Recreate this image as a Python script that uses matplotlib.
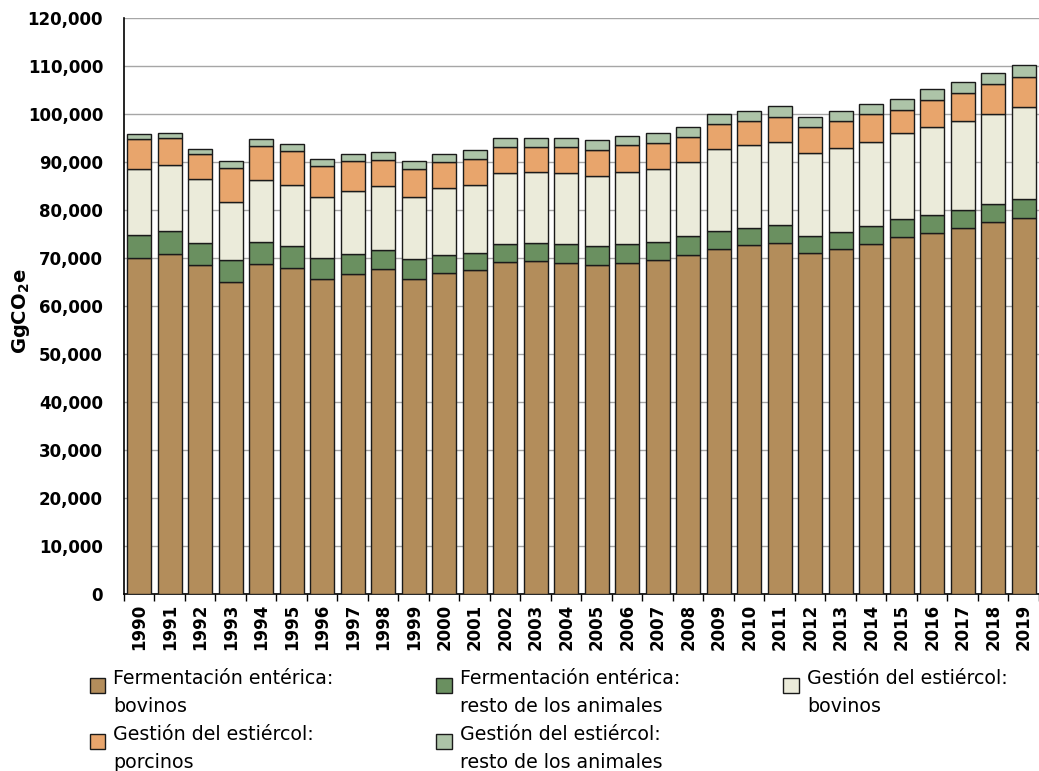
import matplotlib.pyplot as plt
import numpy as np
from matplotlib.legend_handler import HandlerPatch
from matplotlib.patches import Rectangle
from matplotlib.ticker import FuncFormatter, FixedLocator

# Emisiones del sector ganadero (GgCO2e), 1990-2019
years = list(range(1990, 2020))

ferm_bovinos = [69900, 70800, 68500, 64900, 68750, 67850, 65600, 66700, 67600, 65700,
                66900, 67400, 69100, 69300, 69000, 68500, 68960, 69650, 70700, 71800,
                72600, 73100, 71000, 71800, 73000, 74400, 75200, 76200, 77500, 78300]
ferm_resto = [4900, 4800, 4600, 4700, 4650, 4550, 4300, 4100, 4000, 4000,
              3800, 3700, 3750, 3750, 3850, 3900, 3890, 3750, 3800, 3800,
              3700, 3700, 3500, 3550, 3600, 3700, 3800, 3700, 3750, 3900]
estiercol_bovinos = [13700, 13700, 13300, 12100, 12900, 12900, 12700, 13200, 13300, 13100,
                     13900, 14200, 14850, 14800, 14750, 14700, 15050, 15100, 15500, 17000,
                     17200, 17450, 17300, 17500, 17650, 17900, 18300, 18600, 18750, 19200]
estiercol_porcinos = [6200, 5600, 5300, 7050, 7000, 6900, 6600, 6100, 5500, 5700,
                      5300, 5400, 5400, 5200, 5450, 5300, 5600, 5500, 5100, 5250,
                      5000, 5150, 5400, 5650, 5650, 4800, 5600, 5900, 6200, 6200]
estiercol_resto = [1100, 1100, 1100, 1350, 1400, 1500, 1400, 1600, 1600, 1600,
                   1700, 1700, 1800, 1850, 1850, 2100, 2000, 2100, 2200, 2050,
                   2100, 2200, 2200, 2200, 2200, 2300, 2400, 2300, 2300, 2600]

series = [
    ("Fermentación entérica:\nbovinos", ferm_bovinos, "#B38D5B"),
    ("Fermentación entérica:\nresto de los animales", ferm_resto, "#6A9060"),
    ("Gestión del estiércol:\nbovinos", estiercol_bovinos, "#EBEBDA"),
    ("Gestión del estiércol:\nporcinos", estiercol_porcinos, "#E8A56C"),
    ("Gestión del estiércol:\nresto de los animales", estiercol_resto, "#ADC4A8"),
]

plt.rcParams["font.family"] = ["DejaVu Sans"]


def top_square(legend, orig_handle, xdescent, ydescent, width, height, fontsize):
    # square legend key aligned with the first line of a two-line label
    side = 0.8 * fontsize
    return Rectangle((-xdescent, -ydescent + height - side), side, side)


fig = plt.figure(figsize=(10.39, 7.71), dpi=100)
ax = fig.add_axes([0.1193, 0.2296, 0.8807, 0.7471])

x = np.arange(len(years))
bottom = np.zeros(len(years))
handles = []
for label, vals, color in series:
    vals = np.array(vals, dtype=float)
    bars = ax.bar(x, vals, bottom=bottom, width=0.78, color=color,
                  edgecolor="#1a1a1a", linewidth=1.0, label=label, zorder=3)
    handles.append(bars.patches[0])
    bottom += vals

ax.set_ylim(0, 120000)
ax.set_xlim(-0.5, 29.21)
ax.yaxis.set_major_locator(FixedLocator(np.arange(0, 120001, 10000)))
ax.yaxis.set_major_formatter(FuncFormatter(lambda v, p: f"{int(v):,}"))
ax.grid(axis="y", color="#a6a6a6", linewidth=1.0, zorder=0)
ax.set_axisbelow(True)

ax.set_xticks(x)
ax.set_xticklabels([str(y) for y in years], rotation=90, fontweight="bold", fontsize=12)
ax.set_xticks(np.arange(-0.5, 29.6, 1), minor=True)
ax.tick_params(axis="x", which="major", length=0, pad=7)
ax.tick_params(axis="x", which="minor", length=5, width=1, color="black")
ax.tick_params(axis="y", length=0, pad=15, labelsize=12)
for lbl in ax.get_yticklabels():
    lbl.set_fontweight("bold")

for s in ["top", "right"]:
    ax.spines[s].set_visible(False)
ax.spines["left"].set_color("black")
ax.spines["left"].set_linewidth(1.2)
ax.spines["bottom"].set_color("black")
ax.spines["bottom"].set_linewidth(1.2)

ax.set_ylabel("GgCO$_\\mathbf{2}$e", fontweight="bold", fontsize=14)
ax.yaxis.set_label_coords(-0.100, 0.49)

# legend fills row by row in the reference: reorder for matplotlib's column fill
order = [0, 3, 1, 4, 2]
leg = fig.legend(handles=[handles[i] for i in order],
                 labels=[series[i][0] for i in order],
                 loc="upper left", bbox_to_anchor=(0.077, 0.145),
                 ncol=3, frameon=False, fontsize=13.7, handlelength=0.85, handleheight=2.2,
                 handletextpad=0.4, columnspacing=5.4, labelspacing=0.45,
                 borderpad=0, handler_map={Rectangle: HandlerPatch(patch_func=top_square)})
for t in leg.get_texts():
    t.set_linespacing(1.63)

fig.savefig("out.png", dpi=100)
